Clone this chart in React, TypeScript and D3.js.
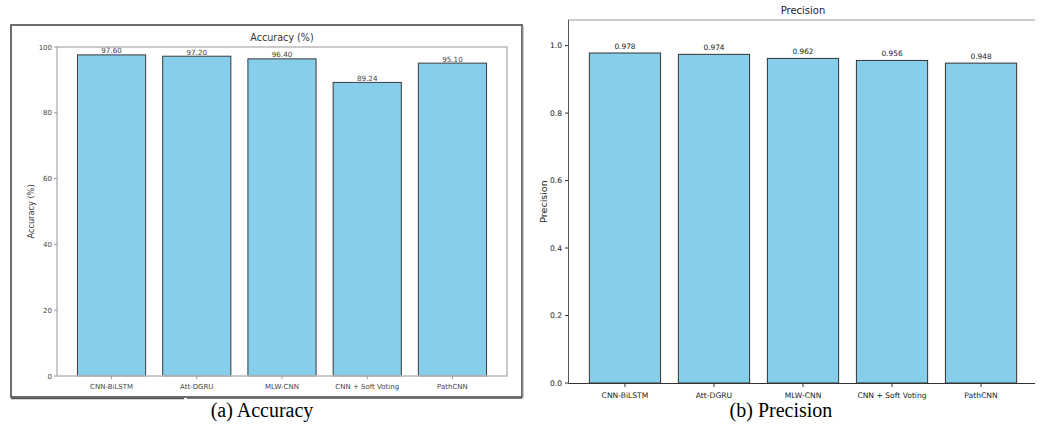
import React from "react";
import * as d3 from "d3";

const categories = ["CNN-BiLSTM", "Att-DGRU", "MLW-CNN", "CNN + Soft Voting", "PathCNN"];
const accuracyValues = [97.6, 97.2, 96.4, 89.24, 95.1];
const precisionValues = [0.978, 0.974, 0.962, 0.956, 0.948];
const accuracyTicks = [0, 20, 40, 60, 80, 100];
const precisionTicks = [0, 0.2, 0.4, 0.6, 0.8, 1.0];

const FILL = "#87CEEB";
const FONT = "DejaVu Sans, sans-serif";

export default function App() {
  // Left panel scales
  const xL = d3.scaleLinear().domain([-0.64, 4.64]).range([57, 507]);
  const yL = d3.scaleLinear().domain([0, 100]).range([376, 47]);
  // Right panel scales
  const xR = d3.scaleLinear().domain([-0.64, 4.64]).range([568, 1038]);
  const yR = d3.scaleLinear().domain([0, 1.0758]).range([383, 20]);
  const bw = 0.8;

  return (
    <svg
      width={1046}
      height={425}
      style={{ position: "absolute", left: 0, top: 0, background: "#fff" }}
      fontFamily={FONT}
    >
      <defs>
        <clipPath id="rclip">
          <rect x={500} y={0} width={535} height={425} />
        </clipPath>
      </defs>

      {/* ===== Left panel ===== */}
      <rect x={11} y={25} width={511} height={372} fill="#fff" stroke="#4a4a4a" strokeWidth={1.6} />
      <line x1={523} y1={26} x2={523} y2={398} stroke="#999" strokeWidth={1} />
      <line x1={11} y1={398.5} x2={184} y2={398.5} stroke="#555" strokeWidth={1.5} />
      <line x1={187} y1={398.5} x2={522} y2={398.5} stroke="#777" strokeWidth={1} />

      <text x={282} y={41} textAnchor="middle" fontSize={9.6} fill="#333">Accuracy (%)</text>

      {categories.map((c, i) => (
        <rect
          key={"lb" + i}
          x={xL(i - bw / 2)}
          y={yL(accuracyValues[i])}
          width={xL(i + bw / 2) - xL(i - bw / 2)}
          height={yL(0) - yL(accuracyValues[i])}
          fill={FILL}
          stroke="#3a3a3a"
          strokeWidth={1}
        />
      ))}

      {/* left spines */}
      <rect x={57} y={47} width={450} height={329} fill="none" stroke="#bdbdbd" strokeWidth={1.6} />

      {accuracyValues.map((v, i) => (
        <text key={"lv" + i} x={xL(i)} y={yL(v) - 1.5} textAnchor="middle" fontSize={7.2} fill="#444">
          {v.toFixed(2)}
        </text>
      ))}

      {accuracyTicks.map((t) => (
        <g key={"lyt" + t}>
          <line x1={54} x2={57} y1={yL(t)} y2={yL(t)} stroke="#999" strokeWidth={1} />
          <text x={52} y={yL(t) + 2.5} textAnchor="end" fontSize={7} fill="#444">{t}</text>
        </g>
      ))}
      {categories.map((c, i) => (
        <g key={"lxt" + i}>
          <line x1={xL(i)} x2={xL(i)} y1={376} y2={379} stroke="#999" strokeWidth={1} />
          <text x={xL(i)} y={389} textAnchor="middle" fontSize={7} fill="#444">{c}</text>
        </g>
      ))}
      <text
        transform={`translate(34,${(47 + 376) / 2}) rotate(-90)`}
        textAnchor="middle"
        fontSize={8.2}
        fill="#333"
      >
        Accuracy (%)
      </text>

      <text x={262} y={417} textAnchor="middle" fontSize={20} fontFamily="Liberation Serif, serif" fill="#000">
        (a) Accuracy
      </text>

      {/* ===== Right panel ===== */}
      <text x={803} y={14} textAnchor="middle" fontSize={10} fill="#222">Precision</text>

      <g clipPath="url(#rclip)">
        {categories.map((c, i) => (
          <rect
            key={"rb" + i}
            x={xR(i - bw / 2)}
            y={yR(precisionValues[i])}
            width={xR(i + bw / 2) - xR(i - bw / 2)}
            height={yR(0) - yR(precisionValues[i])}
            fill={FILL}
            stroke="#333"
            strokeWidth={1}
          />
        ))}
        <line x1={568} x2={1038} y1={20} y2={20} stroke="#999" strokeWidth={1} />
        <line x1={568} x2={1038} y1={383.5} y2={383.5} stroke="#333" strokeWidth={1} />
      </g>
      <line x1={568.5} x2={568.5} y1={20} y2={384} stroke="#555" strokeWidth={1} />

      {precisionValues.map((v, i) => (
        <text key={"rv" + i} x={xR(i)} y={yR(v) - 4.5} textAnchor="middle" fontSize={7.4} fill="#222">
          {v.toFixed(3)}
        </text>
      ))}

      {precisionTicks.map((t) => (
        <g key={"ryt" + t}>
          <line x1={565} x2={568} y1={yR(t)} y2={yR(t)} stroke="#333" strokeWidth={1} />
          <text x={562} y={yR(t) + 2.6} textAnchor="end" fontSize={7.6} fill="#222">{t.toFixed(1)}</text>
        </g>
      ))}
      {categories.map((c, i) => (
        <g key={"rxt" + i}>
          <line x1={xR(i)} x2={xR(i)} y1={383.5} y2={387} stroke="#333" strokeWidth={1} />
          <text x={xR(i)} y={398} textAnchor="middle" fontSize={7.6} fill="#222">{c}</text>
        </g>
      ))}
      <text
        transform={`translate(547,${(20 + 383) / 2}) rotate(-90)`}
        textAnchor="middle"
        fontSize={9.5}
        fill="#222"
      >
        Precision
      </text>

      <text x={781} y={417} textAnchor="middle" fontSize={20} fontFamily="Liberation Serif, serif" fill="#000">
        (b) Precision
      </text>
    </svg>
  );
}
